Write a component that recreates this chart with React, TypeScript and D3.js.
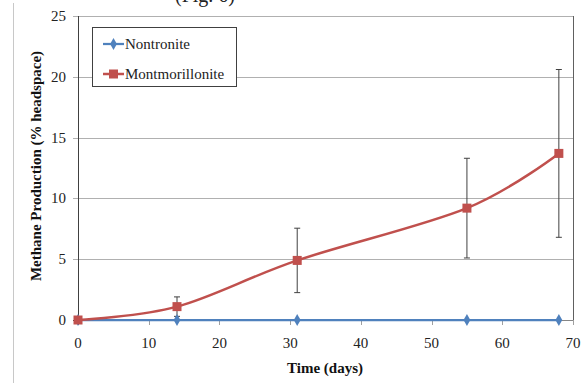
import React from 'react';
import * as d3 from 'd3';

// sampling days
const days = [0, 14, 31, 55, 68];
// methane, % headspace
const nontronite = [0, 0, 0, 0, 0];
const montmorillonite = [0, 1.1, 4.9, 9.2, 13.7];
const montError = [0, 0.8, 2.65, 4.1, 6.9];

const xTicks = [0, 10, 20, 30, 40, 50, 60, 70];
const yTicks = [0, 5, 10, 15, 20, 25];

const W = 584;
const H = 383;
const left = 78, right = 573, top = 16, bottom = 320;
const blue = '#4F81BD';
const red = '#C0504D';
const font = '"Liberation Serif", "Times New Roman", serif';

export default function App() {
  const x = d3.scaleLinear().domain([0, 70]).range([left, right]);
  const y = d3.scaleLinear().domain([0, 25]).range([bottom, top]);

  const line = d3
    .line<number>()
    .x((_, i) => x(days[i]))
    .y((v) => y(v))
    .curve(d3.curveCardinal.tension(0));
  const straight = d3
    .line<number>()
    .x((_, i) => x(days[i]))
    .y((v) => y(v));

  const diamond = d3.symbol(d3.symbolDiamond, 40)()!;

  return (
    <svg width={W} height={H} style={{ position: 'absolute', left: 0, top: 0, background: '#fff' }}>
      {/* page edge */}
      <line x1={13.5} x2={13.5} y1={3} y2={H} stroke="#c8c8c8" strokeWidth={1} />
      <text x={205} y={2} textAnchor="middle" fontFamily={font} fontSize={20} fill="#222">(Fig. 6)</text>

      {/* grid */}
      {yTicks.filter((t) => t > 0).map((t) => (
        <line key={t} x1={left - 5} x2={right} y1={Math.round(y(t)) + 0.5} y2={Math.round(y(t)) + 0.5} stroke="#b0b0b0" />
      ))}
      <line x1={left - 5} x2={left} y1={bottom + 0.5} y2={bottom + 0.5} stroke="#404040" />
      <line x1={right + 0.5} x2={right + 0.5} y1={top} y2={bottom + 5} stroke="#606060" />
      <line x1={left} x2={right} y1={bottom + 0.5} y2={bottom + 0.5} stroke="#868686" />
      {xTicks.map((t) => (
        <line key={t} x1={Math.round(x(t)) + 0.5} x2={Math.round(x(t)) + 0.5} y1={bottom} y2={bottom + 5} stroke="#a0a0a0" />
      ))}
      <line x1={left + 0.5} x2={left + 0.5} y1={top} y2={bottom + 5} stroke="#404040" />

      {/* tick labels */}
      {yTicks.map((t) => (
        <text key={t} x={66} y={y(t) + 5} textAnchor="end" fontFamily={font} fontSize={15} fill="#222">{t}</text>
      ))}
      {xTicks.map((t) => (
        <text key={t} x={x(t)} y={348} textAnchor="middle" fontFamily={font} fontSize={15} fill="#222">{t}</text>
      ))}

      <text x={325} y={373} textAnchor="middle" fontFamily={font} fontSize={15} fontWeight="bold" fill="#111">Time (days)</text>
      <text transform={`translate(41,${166}) rotate(-90)`} textAnchor="middle" fontFamily={font} fontSize={15} fontWeight="bold" fill="#111">
        Methane Production (% headspace)
      </text>

      {/* error bars */}
      {montmorillonite.map((v, i) =>
        montError[i] > 0 ? (
          <g key={i} stroke="#404040" strokeWidth={1}>
            <line x1={x(days[i])} x2={x(days[i])} y1={y(v + montError[i])} y2={y(v - montError[i])} />
            <line x1={x(days[i]) - 3} x2={x(days[i]) + 3} y1={y(v + montError[i])} y2={y(v + montError[i])} />
            <line x1={x(days[i]) - 3} x2={x(days[i]) + 3} y1={y(v - montError[i])} y2={y(v - montError[i])} />
          </g>
        ) : null
      )}

      {/* series */}
      <path d={straight(nontronite)!} fill="none" stroke={blue} strokeWidth={2.25} />
      {nontronite.map((v, i) => (
        <path key={i} d={diamond} transform={`translate(${x(days[i])},${y(v)})`} fill={blue} />
      ))}
      <path d={line(montmorillonite)!} fill="none" stroke={red} strokeWidth={2.5} />
      {montmorillonite.map((v, i) => (
        <rect key={i} x={x(days[i]) - 4.5} y={y(v) - 4.5} width={9} height={9} fill={red} />
      ))}

      {/* legend */}
      <rect x={92.5} y={27.5} width={144} height={59} fill="#fff" stroke="#404040" />
      <line x1={103} x2={124} y1={44} y2={44} stroke={blue} strokeWidth={2.25} />
      <path d={diamond} transform="translate(113.5,44)" fill={blue} />
      <text x={125} y={49} fontFamily={font} fontSize={15} fill="#222">Nontronite</text>
      <line x1={103} x2={124} y1={74} y2={74} stroke={red} strokeWidth={2.5} />
      <rect x={109} y={69.5} width={9} height={9} fill={red} />
      <text x={125} y={79} fontFamily={font} fontSize={15} fill="#222">Montmorillonite</text>
    </svg>
  );
}
